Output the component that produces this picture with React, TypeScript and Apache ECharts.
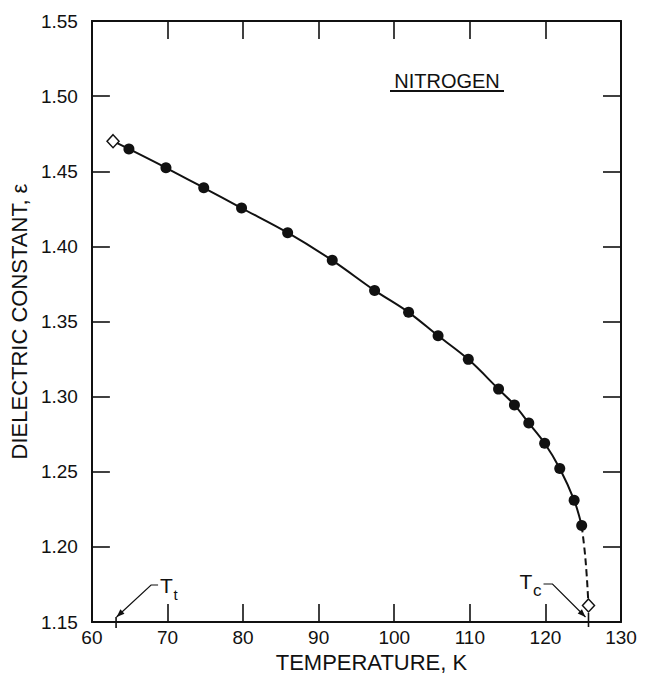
import { useEffect, useRef } from "react";
import * as echarts from "echarts";

// ---- data ----
const xTickValues = [60, 70, 80, 90, 100, 110, 120, 130];
const yTickLabels = ["1.15", "1.20", "1.25", "1.30", "1.35", "1.40", "1.45", "1.50", "1.55"];
const temperatureK = [64.9, 69.8, 74.8, 79.8, 85.9, 91.8, 97.4, 101.9, 105.8, 109.8, 113.8, 115.9, 117.8, 119.9, 121.9, 123.8, 124.8];
const dielectricConstant = [1.4648, 1.4523, 1.439, 1.4255, 1.4091, 1.3907, 1.3707, 1.3561, 1.3405, 1.3248, 1.305, 1.2945, 1.2824, 1.269, 1.2522, 1.2311, 1.2142];
const endpointT = [62.8, 125.7];
const endpointEps = [1.47, 1.161];
const dashedT = [124.8, 125.2, 125.45, 125.6, 125.7];
const dashedEps = [1.2142, 1.197, 1.182, 1.17, 1.161];
const tripleTick = 63.2;
const criticalTick = 125.7;

const X_MIN = 60, X_MAX = 130, X_STEP = 10;
const Y_MIN = 1.15, Y_MAX = 1.55, Y_STEP = 0.05;

const FONT = '"Liberation Sans", Arial, Helvetica, sans-serif';
const INK = "#111";

function arrowHead(fromX: number, fromY: number, tipX: number, tipY: number, len = 8, half = 3) {
  const dx = tipX - fromX, dy = tipY - fromY;
  const d = Math.hypot(dx, dy) || 1;
  const ux = dx / d, uy = dy / d;
  const bx = tipX - ux * len, by = tipY - uy * len;
  return [
    [tipX, tipY],
    [bx - uy * half, by + ux * half],
    [bx + uy * half, by - ux * half],
  ];
}

export default function App() {
  const ref = useRef<HTMLDivElement>(null);

  useEffect(() => {
    if (!ref.current) return;
    const chart = echarts.init(ref.current, undefined, { renderer: "svg" });

    const fitData = [[endpointT[0], endpointEps[0]], ...temperatureK.map((t, i) => [t, dielectricConstant[i]])];
    const pointData = temperatureK.map((t, i) => [t, dielectricConstant[i]]);
    const dashData = dashedT.map((t, i) => [t, dashedEps[i]]);
    const diamondData = endpointT.map((t, i) => [t, endpointEps[i]]);

    const axisLineStyle = { color: INK, width: 2 };
    const tickStyle = { color: INK, width: 1.6 };

    chart.setOption({
      animation: false,
      backgroundColor: "#fff",
      grid: { left: 88, right: 25, top: 21, bottom: 64, containLabel: false },
      xAxis: [
        {
          type: "value", min: X_MIN, max: X_MAX, interval: X_STEP, position: "bottom",
          axisLine: { show: true, lineStyle: axisLineStyle },
          axisTick: { show: true, inside: true, length: 18, lineStyle: tickStyle },
          axisLabel: {
            show: true, margin: 6, color: INK, fontFamily: FONT, fontSize: 19,
            formatter: (v: number) => (xTickValues.includes(v) ? String(v) : ""),
          },
          splitLine: { show: false },
          name: "TEMPERATURE, K", nameLocation: "middle", nameGap: 26,
          nameTextStyle: { color: INK, fontFamily: FONT, fontSize: 22, padding: [0, 0, 0, 30] },
        },
        {
          type: "value", min: X_MIN, max: X_MAX, interval: X_STEP, position: "top",
          axisLine: { show: true, lineStyle: axisLineStyle },
          axisTick: { show: true, inside: true, length: 18, lineStyle: tickStyle },
          axisLabel: { show: false }, splitLine: { show: false },
        },
      ],
      yAxis: [
        {
          type: "value", min: Y_MIN, max: Y_MAX, interval: Y_STEP, position: "left",
          axisLine: { show: true, lineStyle: axisLineStyle },
          axisTick: { show: true, inside: true, length: 18, lineStyle: tickStyle },
          axisLabel: {
            show: true, margin: 14, color: INK, fontFamily: FONT, fontSize: 19,
            formatter: (v: number) => {
              const s = v.toFixed(2);
              return yTickLabels.includes(s) ? s : "";
            },
          },
          splitLine: { show: false },
          name: "DIELECTRIC CONSTANT, ε", nameLocation: "middle", nameGap: 52, nameRotate: 90,
          nameTextStyle: { color: INK, fontFamily: FONT, fontSize: 22 },
        },
        {
          type: "value", min: Y_MIN, max: Y_MAX, interval: Y_STEP, position: "right",
          axisLine: { show: true, lineStyle: axisLineStyle },
          axisTick: { show: true, inside: true, length: 18, lineStyle: tickStyle },
          axisLabel: { show: false }, splitLine: { show: false },
        },
      ],
      series: [
        {
          type: "line", data: fitData, smooth: 0.35, symbol: "none", z: 2,
          lineStyle: { color: INK, width: 2 },
        },
        {
          type: "line", data: dashData, smooth: 0.4, symbol: "none", z: 2,
          lineStyle: { color: INK, width: 2, type: [7, 4] },
        },
        {
          type: "scatter", data: pointData, symbol: "circle", symbolSize: 11, z: 3,
          itemStyle: { color: INK, opacity: 1 },
        },
        {
          type: "scatter", data: diamondData, symbol: "diamond", symbolSize: [12, 13], z: 4,
          itemStyle: { color: "#fff", borderColor: INK, borderWidth: 1.5, opacity: 1 },
        },
      ],
    });

    const [tx, axisY] = chart.convertToPixel({ gridIndex: 0 }, [tripleTick, Y_MIN]) as number[];
    const [cx] = chart.convertToPixel({ gridIndex: 0 }, [criticalTick, Y_MIN]) as number[];

    const tLeader = [[tx + 42, axisY - 37], [tx + 35, axisY - 37], [tx + 0.5, axisY - 5]];
    const cLeader = [[cx - 45, axisY - 38], [cx - 36, axisY - 38], [cx - 3, axisY - 5]];
    const tHead = arrowHead(tLeader[1][0], tLeader[1][1], tLeader[2][0], tLeader[2][1]);
    const cHead = arrowHead(cLeader[1][0], cLeader[1][1], cLeader[2][0], cLeader[2][1]);

    const label = (text: string, x: number, y: number, size: number) => ({
      type: "text", x, y, silent: true,
      style: { text, fontFamily: FONT, fontSize: size, fill: INK, align: "left", verticalAlign: "middle" },
    });

    chart.setOption({
      graphic: [
        // NITROGEN label
        {
          type: "text", x: 447, y: 81, silent: true,
          style: { text: "NITROGEN", fontFamily: FONT, fontSize: 20, fill: INK, align: "center", verticalAlign: "middle" },
        },
        { type: "line", silent: true, shape: { x1: 390, y1: 91, x2: 504, y2: 91 }, style: { stroke: INK, lineWidth: 2 } },
        // triple point marker
        { type: "line", silent: true, shape: { x1: tx, y1: axisY - 5, x2: tx, y2: axisY + 6 }, style: { stroke: INK, lineWidth: 1.6 } },
        { type: "polyline", silent: true, shape: { points: tLeader }, style: { stroke: INK, lineWidth: 1.2, fill: null } },
        { type: "polygon", silent: true, shape: { points: tHead }, style: { fill: INK } },
        label("T", tx + 44, axisY - 37, 21),
        label("t", tx + 57.5, axisY - 28, 15),
        // critical point marker
        { type: "line", silent: true, shape: { x1: cx, y1: axisY - 9, x2: cx, y2: axisY + 5 }, style: { stroke: INK, lineWidth: 1.6 } },
        { type: "polyline", silent: true, shape: { points: cLeader }, style: { stroke: INK, lineWidth: 1.2, fill: null } },
        { type: "polygon", silent: true, shape: { points: cHead }, style: { fill: INK } },
        label("T", cx - 69, axisY - 41, 21),
        label("c", cx - 55.5, axisY - 32, 17),
      ],
    });

    return () => chart.dispose();
  }, []);

  return (
    <div
      ref={ref}
      style={{ position: "fixed", left: 0, top: 0, width: 646, height: 686, background: "#fff" }}
    />
  );
}
